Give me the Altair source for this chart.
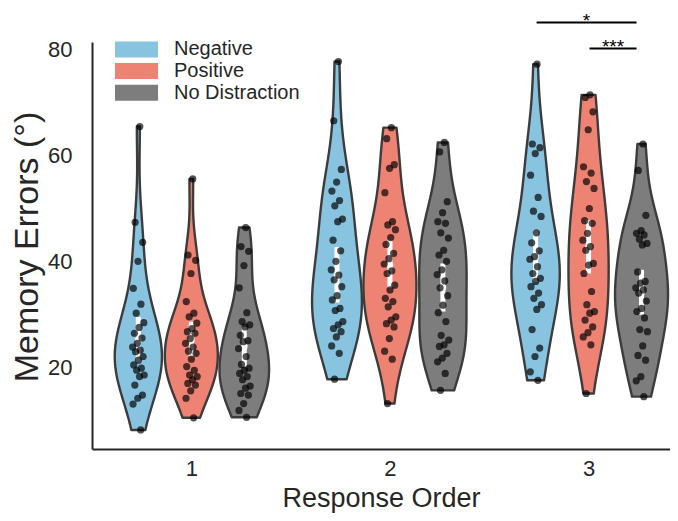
import altair as alt
import numpy as np
import pandas as pd

# ---------------- data ----------------
conditions = ["Negative", "Positive", "No Distraction"]
orders = [1, 2, 3]
violin_colors = ["#88C4E0", "#EE8374", "#7D7D7D"]

neg_1 = [65.5, 47.4, 43.6, 40.0, 34.9, 31.9, 30.2, 28.4, 27.5, 26.4, 25.5, 24.5, 23.8, 23.2,
         22.9, 22.0, 21.3, 20.4, 19.8, 19.4, 18.5, 18.2, 16.6, 14.7, 14.1, 13.0, 8.1]
pos_1 = [55.6, 41.2, 40.2, 37.7, 32.4, 30.2, 29.5, 28.3, 27.3, 26.7, 26.4, 25.4, 24.5, 23.8,
         23.0, 22.6, 21.5, 20.1, 19.4, 18.5, 18.2, 17.6, 16.9, 16.6, 15.5, 14.1, 10.4]
nod_1 = [46.4, 42.8, 41.9, 39.2, 35.0, 30.3, 28.6, 28.0, 27.6, 26.0, 25.0, 24.8, 23.5, 22.0,
         20.5, 19.8, 19.4, 18.8, 18.2, 17.6, 16.4, 16.0, 15.0, 14.7, 13.1, 11.8, 10.5]
neg_2 = [77.8, 66.6, 57.4, 55.0, 53.3, 51.5, 50.5, 48.0, 47.5, 44.0, 42.0, 40.0, 38.4, 37.4,
         36.5, 35.2, 33.5, 32.7, 31.1, 30.7, 28.6, 28.0, 27.3, 26.7, 25.7, 24.0, 22.6, 17.7]
pos_2 = [65.3, 63.2, 58.3, 57.6, 53.0, 47.5, 46.9, 46.0, 44.5, 43.2, 41.5, 40.5, 39.5, 38.2,
         37.7, 35.5, 34.6, 33.0, 32.4, 31.4, 29.5, 28.9, 28.2, 27.6, 25.4, 23.0, 21.5, 13.1]
nod_2 = [62.5, 60.7, 51.3, 49.2, 47.5, 47.2, 45.4, 44.4, 42.1, 41.2, 40.0, 38.4, 37.5, 36.3,
         35.0, 33.5, 31.7, 30.3, 28.6, 26.0, 25.1, 24.2, 23.9, 22.6, 21.7, 21.0, 18.8, 15.6]
neg_3 = [77.3, 62.2, 61.5, 60.4, 56.3, 52.1, 49.5, 48.5, 45.4, 43.5, 42.0, 40.9, 40.4, 39.0,
         37.7, 36.8, 36.2, 35.2, 34.0, 33.0, 31.8, 30.9, 27.1, 23.6, 22.0, 19.1, 17.5]
pos_3 = [71.5, 71.0, 68.3, 64.9, 57.9, 56.7, 55.1, 53.8, 50.0, 47.7, 47.2, 45.3, 44.0, 42.8,
         42.1, 39.6, 39.3, 37.7, 34.3, 31.8, 30.5, 30.2, 28.9, 27.6, 26.5, 25.7, 24.2, 15.0]
nod_3 = [62.2, 57.2, 48.7, 45.8, 45.3, 45.0, 44.2, 43.4, 43.1, 38.0, 36.2, 35.9, 35.0, 34.6,
         34.0, 32.5, 31.1, 30.5, 29.3, 27.1, 26.7, 24.0, 22.2, 21.3, 18.2, 17.4, 14.4]

# inner box (white bar = interquartile range, white dot = median), per response order
box_q1 = {"Negative": [20.9, 32.2, 36.1], "Positive": [22.0, 35.0, 37.7], "No Distraction": [20.1, 30.5, 29.9]}
box_med = {"Negative": [25.1, 37.2, 40.9], "Positive": [25.1, 39.3, 42.8], "No Distraction": [23.9, 35.0, 34.1]}
box_q3 = {"Negative": [29.5, 42.7, 45.9], "Positive": [28.6, 44.0, 47.8], "No Distraction": [27.6, 39.6, 38.4]}

# significance annotations (condition pairs at response order 3)
sig_a = ["Negative", "Positive"]
sig_b = ["No Distraction", "No Distraction"]
sig_label = ["*", "***"]
sig_level = [1, 0]

series = {
    (1, "Negative"): neg_1, (1, "Positive"): pos_1, (1, "No Distraction"): nod_1,
    (2, "Negative"): neg_2, (2, "Positive"): pos_2, (2, "No Distraction"): nod_2,
    (3, "Negative"): neg_3, (3, "Positive"): pos_3, (3, "No Distraction"): nod_3,
}

# ---------------- tables ----------------
raw = pd.DataFrame([
    {"ro": o, "cond": c, "value": v}
    for (o, c), vals in series.items() for v in vals
])

# gaussian KDE (Scott's rule, cut at the data range) per violin, scaled within each order
kde_rows = []
for o in orders:
    dens_group = {}
    for c in conditions:
        v = np.asarray(series[(o, c)], dtype=float)
        n = len(v)
        bw = v.std(ddof=1) * n ** (-0.2)
        grid = np.linspace(v.min(), v.max(), 120)
        z = (grid[:, None] - v[None, :]) / bw
        d = np.exp(-0.5 * z ** 2).sum(axis=1) / (n * bw * np.sqrt(2 * np.pi))
        dens_group[c] = (grid, d)
    mx = max(d.max() for _, d in dens_group.values())
    for c, (grid, d) in dens_group.items():
        for g, dd in zip(grid, d):
            kde_rows.append({"ro": o, "cond": c, "value": float(g), "dens": float(dd / mx)})
kde = pd.DataFrame(kde_rows)

box = pd.DataFrame([
    {"ro": o, "cond": c, "q1": box_q1[c][i], "med": box_med[c][i], "q3": box_q3[c][i]}
    for c in conditions for i, o in enumerate(orders)
])

sig = pd.DataFrame({"a": sig_a, "b": sig_b, "label": sig_label, "level": sig_level})

# ---------------- encodings ----------------
conds_js = "['Negative','Positive','No Distraction']"
HUE_W = 0.8 / 3
CENTER = f"datum.ro + (indexof({conds_js}, datum.cond) - 1) * {HUE_W}"

FONT = "Liberation Sans"
TXT = "#262626"
PLOT_W, PLOT_H = 578, 407

x_scale = alt.Scale(domain=[0.5, 3.41], nice=False, zero=False)
y_scale = alt.Scale(domain=[4.5, 81.5], nice=False, zero=False)

x_axis = alt.Axis(values=[1, 2, 3], format="d", title="Response Order", grid=False,
                  ticks=False, tickSize=0, labelFontSize=22, labelPadding=9.5,
                  titleFontSize=27, titleFontWeight="normal", titleY=57.5,
                  titleBaseline="alphabetic", domainColor=TXT, domainWidth=2,
                  labelColor=TXT, titleColor=TXT, labelFlush=False)
y_axis = alt.Axis(values=[20, 40, 60, 80], title="Memory Errors (°)", grid=False,
                  ticks=False, tickSize=0, labelFontSize=22, labelPadding=20,
                  titleFontSize=34, titleFontWeight="normal", titleAngle=270,
                  titleX=-55, titleY=PLOT_H / 2 + 1, titleAlign="center",
                  titleBaseline="alphabetic",
                  domainColor=TXT, domainWidth=2, labelColor=TXT, titleColor=TXT)


def X(field):
    return alt.X(field, type="quantitative", scale=x_scale, axis=x_axis,
                 title="Response Order", stack=None)


def Y(field):
    return alt.Y(field, type="quantitative", scale=y_scale, axis=y_axis,
                 title="Memory Errors (°)", stack=None)


legend = alt.Legend(
    title=None, orient="none", legendX=34.5, legendY=-2.6, padding=0,
    symbolType="M-2.69,-1L2.69,-1L2.69,1L-2.69,1Z", symbolSize=256,
    symbolStrokeWidth=0, symbolOpacity=1, labelFontSize=20, labelOffset=27.5,
    rowPadding=1.7, labelColor=TXT, labelFont=FONT,
)

violins = alt.Chart(kde).transform_calculate(
    xc=CENTER
).transform_calculate(
    xlo=f"datum.xc - datum.dens * {HUE_W / 2}",
    xhi=f"datum.xc + datum.dens * {HUE_W / 2}",
).mark_area(orient="horizontal", stroke="#3c3c3c", strokeWidth=2.4,
            strokeJoin="round", fillOpacity=1).encode(
    x=X("xlo"),
    x2="xhi:Q",
    y=Y("value"),
    color=alt.Color("cond:N", scale=alt.Scale(domain=conditions, range=violin_colors),
                    legend=legend),
    detail="ro:N",
)

iqr = alt.Chart(box).transform_calculate(xc=CENTER).mark_rule(
    color="white", strokeWidth=5).encode(x=X("xc"), y=Y("q1"), y2="q3:Q")

med = alt.Chart(box).transform_calculate(xc=CENTER).mark_circle(
    color="white", opacity=1, size=45).encode(x=X("xc"), y=Y("med"))

points = alt.Chart(raw).transform_window(
    idx="row_number()", groupby=["ro", "cond"]
).transform_calculate(
    xc=CENTER
).transform_calculate(
    px="datum.xc + ((datum.idx * 0.6180339887) % 1 - 0.5) * 0.062"
).mark_circle(color="black", opacity=0.68, size=52).encode(
    x=X("px"), y=Y("value"))

sig_base = alt.Chart(sig).transform_calculate(
    x1=f"3 + (indexof({conds_js}, datum.a) - 1) * {HUE_W} + 0.005",
    x2=f"3 + (indexof({conds_js}, datum.b) - 1) * {HUE_W} - 0.025",
    yy="80.27 + 4.92 * datum.level",
).transform_calculate(xm="(datum.x1 + datum.x2) / 2")

sig_rules = sig_base.mark_rule(color="black", strokeWidth=2).encode(
    x=X("x1"), x2="x2:Q", y=Y("yy"))
sig_text = sig_base.mark_text(fontSize=19, dy=4.5, baseline="alphabetic", color="black",
                              font=FONT).encode(
    x=X("xm"), y=Y("yy"), text="label:N")

chart = alt.layer(violins, iqr, med, points, sig_rules, sig_text).properties(
    width=PLOT_W, height=PLOT_H,
    autosize=alt.AutoSizeParams(type="none"),
    padding={"left": 84, "top": 34, "right": 0, "bottom": 64},
    background="white",
).configure(font=FONT).configure_view(stroke=None)

chart.save("out.html", embed_options={"renderer": "svg", "actions": False})
